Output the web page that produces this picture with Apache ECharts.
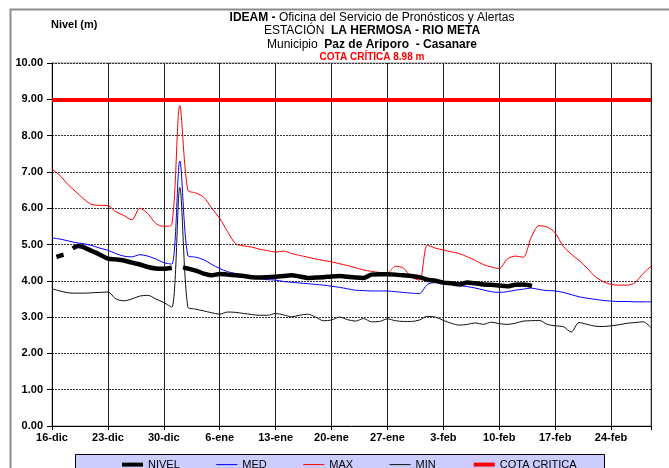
<!DOCTYPE html>
<html>
<head>
<meta charset="utf-8">
<script src="https://cdn.jsdelivr.net/npm/echarts@6/dist/echarts.min.js"></script>
<style>
html,body{margin:0;padding:0;background:#fff;}
#chart{width:669px;height:468px;}
</style>
</head>
<body>
<div id="chart"></div>
<script>
// Tick labels (every 7 days starting 16-dic)
const tickLabels = ['16-dic','23-dic','30-dic','6-ene','13-ene','20-ene','27-ene','3-feb','10-feb','17-feb','24-feb'];
const seriesNames = ['NIVEL','MED','MAX','MIN','COTA CRITICA'];
const cotaCritica = 8.98;

// Daily values, day 0 = 16-dic ... day 75
const maxValues = [7.08,6.9,6.65,6.45,6.25,6.1,6.08,6.07,5.9,5.8,5.68,6.0,5.85,5.58,5.5,5.55,8.83,6.5,6.42,6.3,
  6.0,5.72,5.35,5.02,4.96,4.93,4.87,4.83,4.79,4.82,4.75,4.7,4.65,4.6,4.56,4.52,4.47,4.42,4.36,4.3,
  4.26,4.23,4.22,4.4,4.35,4.1,4.02,4.98,4.9,4.85,4.8,4.75,4.66,4.56,4.45,4.38,4.34,4.6,4.68,4.65,
  5.2,5.52,5.48,5.32,4.95,4.74,4.56,4.35,4.12,3.98,3.9,3.88,3.88,3.95,4.2,4.4];
const medValues = [5.18,5.15,5.1,5.05,5.02,4.97,4.9,4.84,4.75,4.68,4.66,4.72,4.68,4.6,4.5,4.46,7.3,4.7,4.65,4.58,
  4.45,4.34,4.25,4.2,4.15,4.1,4.06,4.03,4.02,3.98,3.96,3.94,3.92,3.9,3.88,3.85,3.82,3.78,3.74,3.73,
  3.72,3.72,3.72,3.7,3.68,3.66,3.65,3.9,3.95,3.93,3.9,3.87,3.84,3.8,3.75,3.7,3.68,3.7,3.74,3.77,
  3.8,3.76,3.73,3.72,3.68,3.62,3.56,3.52,3.49,3.46,3.44,3.43,3.43,3.42,3.42,3.42];
const minValues = [3.78,3.72,3.67,3.66,3.66,3.67,3.68,3.69,3.5,3.45,3.5,3.58,3.6,3.5,3.4,3.27,6.57,3.28,3.22,3.17,
  3.12,3.08,3.14,3.13,3.1,3.07,3.05,3.05,3.1,3.06,3.01,3.05,3.08,3.0,2.9,2.92,3.0,2.93,2.89,2.96,
  2.87,2.88,2.95,2.9,2.88,2.88,2.92,3.02,3.0,2.91,2.83,2.78,2.8,2.84,2.8,2.86,2.82,2.8,2.83,2.89,
  2.9,2.91,2.8,2.76,2.74,2.59,2.85,2.8,2.75,2.74,2.76,2.79,2.83,2.85,2.87,2.71];
// Observed level (day, value); null = no data
const nivelDays = [0.55,1.45,2.0,2.6,3.25,4,5,6,7,8,9,10,11,12,13,14,15,15.8,16.4,17,18,19,20,21,22,23,24,25,26,27,28,29,
  30,31,32,33,34,35,36,37,38,39,40,41,42,43,44,45,46,47,48,49,50,51,52,53,54,55,56,57,58,59,60.1];
const nivelValues = [4.66,4.72,null,4.89,4.96,4.92,4.82,4.72,4.61,4.59,4.56,4.5,4.45,4.38,4.34,4.33,4.36,null,4.37,4.34,4.28,4.2,4.15,4.19,4.17,4.15,4.13,4.1,4.09,4.1,4.11,4.13,
  4.15,4.12,4.08,4.09,4.1,4.12,4.13,4.11,4.09,4.08,4.17,4.18,4.18,4.17,4.15,4.13,4.1,4.03,4.0,3.95,3.93,3.9,3.95,3.93,3.9,3.89,3.87,3.85,3.89,3.9,3.86];

const lastDay = maxValues.length - 1;
const toPairs = arr => arr.map((v, i) => [i, v]);
const legendWidths = {'NIVEL': 4, 'MED': 1, 'MAX': 1, 'MIN': 1, 'COTA CRITICA': 4};

const chart = echarts.init(document.getElementById('chart'), null, {renderer: 'canvas'});
const font = 'Liberation Sans, Arial, sans-serif';

chart.setOption({
  animation: false,
  backgroundColor: '#fff',
  textStyle: {fontFamily: font},
  title: [{
    text: '{b|IDEAM -} Oficina del Servicio de Pronósticos y Alertas\nESTACIÓN  {b|LA HERMOSA - RIO META}\nMunicipio  {b|Paz de Ariporo  - Casanare}\n{r|COTA CRÍTICA 8.98 m}',
    left: 367, top: 6, textAlign: 'center',
    textStyle: {
      fontSize: 12, fontWeight: 'normal', color: '#000', lineHeight: 13.3, fontFamily: font,
      rich: {
        b: {fontSize: 12, fontWeight: 'bold', color: '#000', lineHeight: 13.3, fontFamily: font},
        r: {fontSize: 10, fontWeight: 'bold', color: '#ff0000', lineHeight: 13.3, fontFamily: font}
      }
    }
  }, {
    text: 'Nivel (m)', left: 46, top: 14,
    textStyle: {fontSize: 11, fontWeight: 'bold', color: '#000', fontFamily: font}
  }],
  graphic: [{
    type: 'rect', z: -10, silent: true,
    shape: {x: 10.5, y: 9.5, width: 700, height: 520},
    style: {fill: 'none', stroke: '#8c8c8c', lineWidth: 2}
  }, {
    type: 'rect', z: 0, silent: true,
    shape: {x: 75.5, y: 454.5, width: 529, height: 24},
    style: {fill: '#ccccff', stroke: '#000', lineWidth: 1}
  }],
  legend: {
    left: 115, top: 454, itemWidth: 21, itemHeight: 14, itemGap: 36,
    data: seriesNames.map(n => ({name: n, lineStyle: {width: legendWidths[n]}})),
    itemStyle: {opacity: 0},
    textStyle: {fontSize: 11, color: '#000', fontFamily: font},
    z: 5
  },
  grid: {left: 52, right: 18, top: 63, bottom: 42, show: true, borderColor: '#8c8c8c', borderWidth: 1, containLabel: false},
  xAxis: {
    type: 'value', min: 0, max: lastDay, interval: 7,
    axisLine: {show: true, onZero: false, lineStyle: {color: '#000', width: 1}},
    axisTick: {show: true, length: 4, lineStyle: {color: '#000'}},
    axisLabel: {
      fontSize: 11, fontWeight: 'bold', color: '#000', margin: 6, fontFamily: font,
      formatter: v => tickLabels[Math.round(v / 7)] || ''
    },
    splitLine: {show: true, lineStyle: {color: '#222', width: 1, type: 'solid'}}
  },
  yAxis: {
    type: 'value', min: 0, max: 10, interval: 1,
    axisLine: {show: true, lineStyle: {color: '#000', width: 1}},
    axisTick: {show: true, length: 5, lineStyle: {color: '#000'}},
    axisLabel: {fontSize: 11, fontWeight: 'bold', color: '#000', margin: 9, fontFamily: font, formatter: v => v.toFixed(2)},
    splitLine: {show: true, lineStyle: {color: '#333', width: 1, type: [2, 1]}}
  },
  series: [{
    name: 'NIVEL', type: 'line', z: 6, showSymbol: false, symbol: 'none', smooth: 0.3,
    connectNulls: false,
    lineStyle: {color: '#000', width: 4.5},
    itemStyle: {color: '#000'},
    data: nivelDays.map((d, i) => [d, nivelValues[i] === null ? '-' : nivelValues[i]])
  }, {
    name: 'MED', type: 'line', z: 4, showSymbol: false, symbol: 'none', smooth: 0.3,
    lineStyle: {color: '#0000ff', width: 1},
    itemStyle: {color: '#0000ff'},
    data: toPairs(medValues)
  }, {
    name: 'MAX', type: 'line', z: 4, showSymbol: false, symbol: 'none', smooth: 0.3,
    lineStyle: {color: '#ff0000', width: 1},
    itemStyle: {color: '#ff0000'},
    data: toPairs(maxValues)
  }, {
    name: 'MIN', type: 'line', z: 4, showSymbol: false, symbol: 'none', smooth: 0.3,
    lineStyle: {color: '#111', width: 1},
    itemStyle: {color: '#111'},
    data: toPairs(minValues)
  }, {
    name: 'COTA CRITICA', type: 'line', z: 5, showSymbol: false, symbol: 'none',
    lineStyle: {color: '#ff0000', width: 4},
    itemStyle: {color: '#ff0000'},
    data: [[0, cotaCritica], [lastDay, cotaCritica]]
  }]
});
</script>
</body>
</html>
